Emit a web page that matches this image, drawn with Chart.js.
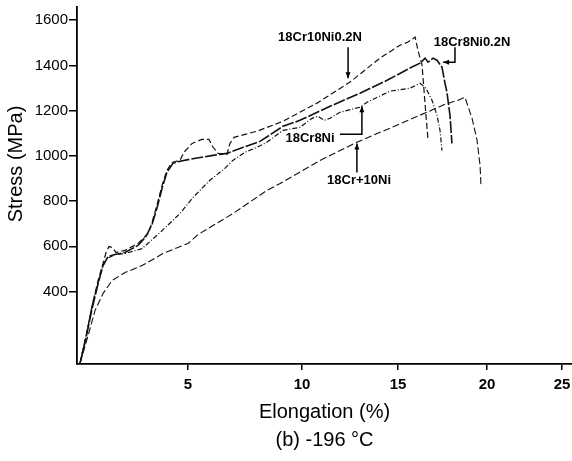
<!DOCTYPE html>
<html>
<head>
<meta charset="utf-8">
<script src="https://cdn.jsdelivr.net/npm/chart.js@4.4.1/dist/chart.umd.min.js"></script>
<style>
  html, body { margin: 0; padding: 0; background: #fff; }
  #wrap { width: 572px; height: 461px; position: relative; }
</style>
</head>
<body>
<div id="wrap"><canvas id="chart"></canvas></div>
<script>
// Tensile curves at -196 C
const seriesNames = ['18Cr10Ni0.2N', '18Cr8Ni0.2N', '18Cr8Ni', '18Cr+10Ni'];

// elongation (%) / stress (MPa)
const cr10Ni02N_x = [0.14, 0.41, 0.68, 0.95, 1.17, 1.31, 1.44, 1.58, 1.76, 2.16, 2.75, 3.20, 3.38, 3.60, 3.83, 4.05, 4.28, 4.64, 4.82, 5.18, 5.61, 5.92, 6.10, 6.32, 6.71, 6.84, 7.02, 7.50, 8.03, 9.17, 10.78, 12.50, 14.06, 15.11, 15.56, 15.96, 16.12, 16.35, 16.46, 16.57, 16.69];
const cr10Ni02N_y = [85, 205, 338, 449, 524, 573, 599, 595, 573, 582, 613, 657, 706, 781, 869, 936, 971, 980, 1016, 1055, 1073, 1073, 1038, 1011, 1007, 1055, 1082, 1095, 1109, 1153, 1233, 1326, 1432, 1489, 1503, 1525, 1467, 1401, 1290, 1179, 1069];

const cr8Ni02N_x = [0.14, 0.41, 0.68, 0.95, 1.17, 1.40, 1.71, 2.16, 2.75, 3.11, 3.38, 3.60, 3.83, 4.05, 4.32, 4.64, 5.09, 6.10, 6.71, 7.28, 8.16, 9.17, 9.91, 11.46, 13.02, 14.43, 15.67, 16.24, 16.52, 16.69, 16.97, 17.19, 17.47, 17.64, 17.75, 17.92, 18.03];
const cr8Ni02N_y = [85, 196, 325, 435, 515, 555, 564, 573, 604, 644, 697, 768, 856, 927, 967, 976, 985, 1002, 1011, 1033, 1064, 1131, 1157, 1219, 1277, 1334, 1388, 1410, 1432, 1414, 1432, 1423, 1392, 1321, 1281, 1179, 1055];

const cr8Ni_x = [0.14, 0.41, 0.68, 0.95, 1.17, 1.35, 1.71, 2.16, 2.93, 3.74, 4.64, 5.22, 5.96, 6.62, 6.97, 7.50, 8.03, 8.46, 9.17, 9.91, 10.52, 10.83, 11.15, 11.46, 11.98, 13.02, 13.39, 14.58, 15.67, 16.24, 16.57, 16.91, 17.19, 17.36, 17.47];
const cr8Ni_y = [85, 205, 338, 440, 515, 546, 564, 568, 590, 661, 745, 816, 892, 945, 980, 1016, 1038, 1060, 1113, 1126, 1166, 1175, 1157, 1166, 1193, 1215, 1237, 1286, 1299, 1321, 1299, 1246, 1179, 1113, 1024];

const cr10Ni_x = [0.14, 0.50, 0.81, 1.17, 1.58, 2.16, 2.93, 3.87, 4.41, 5.00, 5.44, 6.97, 8.46, 9.04, 10.94, 12.86, 16.63, 17.64, 18.37, 18.76, 19.16, 19.44, 19.61, 19.66];
const cr10Ni_y = [85, 205, 316, 391, 449, 484, 515, 568, 590, 613, 652, 745, 847, 878, 980, 1060, 1193, 1228, 1246, 1259, 1166, 1069, 958, 869];

const xTicks = [5, 10, 15, 20, 25];
const yTicks = [400, 600, 800, 1000, 1200, 1400, 1600];

// labels with their leader arrows, in data units
const callouts = [
    { text: '18Cr10Ni0.2N', at: [10.94, 1525], path: [[12.40, 1480], [12.40, 1343]] },
    { text: '18Cr8Ni0.2N', at: [19.16, 1503], path: [[18.20, 1480], [18.20, 1414], [17.53, 1414]] },
    { text: '18Cr8Ni', at: [10.42, 1078], path: [[11.98, 1095], [13.12, 1095], [13.12, 1219]] },
    { text: '18Cr+10Ni', at: [12.97, 892], path: [[12.86, 927], [12.86, 1055]] }
];

// the printed x axis is not evenly spaced, so the scale follows its tick spacing
const stretchAt = [0, 5, 10, 15, 20, 25, 25.67];
const stretchTo = [0, 0.2242, 0.4545, 0.6485, 0.8283, 0.9798, 1];

function warp(v) {
    for (let i = 1; i < stretchAt.length; i++) {
        if (v <= stretchAt[i] || i === stretchAt.length - 1) {
            const t = (v - stretchAt[i - 1]) / (stretchAt[i] - stretchAt[i - 1]);
            return stretchTo[i - 1] + t * (stretchTo[i] - stretchTo[i - 1]);
        }
    }
}
function unwarp(d) {
    for (let i = 1; i < stretchTo.length; i++) {
        if (d <= stretchTo[i] || i === stretchTo.length - 1) {
            const t = (d - stretchTo[i - 1]) / (stretchTo[i] - stretchTo[i - 1]);
            return stretchAt[i - 1] + t * (stretchAt[i] - stretchAt[i - 1]);
        }
    }
}

class WarpScale extends Chart.LinearScale {
    getPixelForValue(value) {
        return value === null ? NaN : this.getPixelForDecimal(warp(value));
    }
    getValueForPixel(pixel) {
        return unwarp(this.getDecimalForPixel(pixel));
    }
}
WarpScale.id = 'warp';
WarpScale.defaults = Chart.LinearScale.defaults;
Chart.register(WarpScale);

const FONT = '"Liberation Sans", Arial, sans-serif';

const calloutPlugin = {
    id: 'callouts',
    afterDatasetsDraw(chart) {
        const { ctx, scales: { x, y }, chartArea } = chart;
        ctx.save();
        ctx.fillStyle = '#000';
        ctx.strokeStyle = '#000';
        ctx.textAlign = 'center';
        ctx.textBaseline = 'middle';

        callouts.forEach(c => {
            ctx.font = 'bold 13px ' + FONT;
            ctx.fillText(c.text, x.getPixelForValue(c.at[0]), y.getPixelForValue(c.at[1]));

            const pts = c.path.map(p => [x.getPixelForValue(p[0]), y.getPixelForValue(p[1])]);
            ctx.lineWidth = 1.5;
            ctx.beginPath();
            pts.forEach((p, i) => i ? ctx.lineTo(p[0], p[1]) : ctx.moveTo(p[0], p[1]));
            ctx.stroke();

            const [ex, ey] = pts[pts.length - 1];
            const [sx, sy] = pts[pts.length - 2];
            const a = Math.atan2(ey - sy, ex - sx);
            ctx.beginPath();
            ctx.moveTo(ex, ey);
            ctx.lineTo(ex - 6 * Math.cos(a) + 2.5 * Math.sin(a), ey - 6 * Math.sin(a) - 2.5 * Math.cos(a));
            ctx.lineTo(ex - 6 * Math.cos(a) - 2.5 * Math.sin(a), ey - 6 * Math.sin(a) + 2.5 * Math.cos(a));
            ctx.closePath();
            ctx.fill();
        });

        // y title sits a little above the middle of the axis in the original
        ctx.font = '20px ' + FONT;
        ctx.translate(16, chartArea.top + 157);
        ctx.rotate(-Math.PI / 2);
        ctx.fillText('Stress (MPa)', 0, 0);
        ctx.restore();
    }
};

function toPoints(xs, ys) {
    return xs.map((v, i) => ({ x: v, y: ys[i] }));
}

const lineStyles = [
    { borderWidth: 1.2, borderDash: [6, 3] },
    { borderWidth: 1.6, borderDash: [12, 2] },
    { borderWidth: 1.2, borderDash: [5, 2, 1, 2] },
    { borderWidth: 1.1, borderDash: [7, 3] }
];

const seriesData = [
    toPoints(cr10Ni02N_x, cr10Ni02N_y),
    toPoints(cr8Ni02N_x, cr8Ni02N_y),
    toPoints(cr8Ni_x, cr8Ni_y),
    toPoints(cr10Ni_x, cr10Ni_y)
];

new Chart(document.getElementById('chart'), {
    type: 'scatter',
    data: {
        datasets: seriesData.map((pts, i) => ({
            label: seriesNames[i],
            data: pts,
            showLine: true,
            pointRadius: 0,
            borderColor: '#111',
            tension: 0,
            fill: false,
            ...lineStyles[i]
        }))
    },
    options: {
        responsive: true,
        maintainAspectRatio: false,
        devicePixelRatio: 1,
        animation: false,
        layout: { padding: 0 },
        plugins: {
            legend: { display: false },
            tooltip: { enabled: false }
        },
        scales: {
            x: {
                type: 'warp',
                min: 0,
                max: 25.67,
                afterBuildTicks: s => { s.ticks = xTicks.map(v => ({ value: v })); },
                afterFit: s => { s.height = 97; s.paddingLeft = 0; s.paddingRight = 0; },
                grid: { drawOnChartArea: false, drawTicks: true, tickLength: 6, color: '#000', lineWidth: 1.5 },
                border: { display: true, color: '#000', width: 1.8 },
                ticks: { color: '#000', padding: 6, maxRotation: 0, callback: v => String(v), font: { family: FONT, size: 15, weight: 'bold' } },
                title: {
                    display: true,
                    text: ['Elongation (%)', '(b) -196 °C'],
                    color: '#000',
                    padding: { top: 0, bottom: 7 },
                    font: { family: FONT, size: 20, lineHeight: 1.4 }
                }
            },
            y: {
                min: 80,
                max: 1658,
                afterBuildTicks: s => { s.ticks = yTicks.map(v => ({ value: v })); },
                afterFit: s => { s.width = 77; s.paddingTop = 7; s.paddingBottom = 0; },
                grid: { drawOnChartArea: false, drawTicks: true, tickLength: 8, color: '#000', lineWidth: 1.5 },
                border: { display: true, color: '#000', width: 1.8 },
                ticks: { color: '#000', padding: 1, callback: v => String(v), font: { family: FONT, size: 15 } },
                title: { display: false }
            }
        }
    },
    plugins: [calloutPlugin]
});
</script>
</body>
</html>
